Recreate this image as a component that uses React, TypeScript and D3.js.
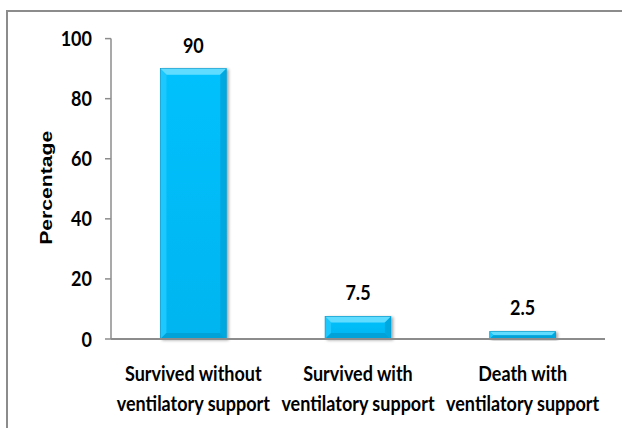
import React from "react";
import * as d3 from "d3";

const categories = [
  ["Survived without", "ventilatory support"],
  ["Survived with", "ventilatory support"],
  ["Death with", "ventilatory support"],
];
const values = [90, 7.5, 2.5];
const valueLabels = ["90", "7.5", "2.5"];
const yTicks = [0, 20, 40, 60, 80, 100];
const yTitle = "Percentage";

const W = 622;
const H = 428;
const plot = { left: 111, right: 605, top: 38.6, bottom: 339 };
const FONT = "Lato, 'Open Sans', sans-serif";
const SY = 1.2;

function T({ x, y, anchor = "middle", size = 18, children }: any) {
  return (
    <text
      transform={`translate(${x},${y}) scale(1,${SY})`}
      textAnchor={anchor}
      fontSize={size}
      fontWeight={700}
      fill="#000"
    >
      {children}
    </text>
  );
}

export default function App() {
  const x = d3
    .scaleBand<number>()
    .domain(d3.range(values.length))
    .range([plot.left, plot.right])
    .paddingInner(0.6)
    .paddingOuter(0.3);
  const y = d3.scaleLinear().domain([0, 100]).range([plot.bottom, plot.top]);
  const bw = x.bandwidth();

  return (
    <svg
      width={W}
      height={H}
      style={{ position: "absolute", left: 0, top: 0, background: "#fff" }}
      fontFamily={FONT}
    >
      <defs>
        <linearGradient id="barFill" x1="0" y1="0" x2="0" y2="1">
          <stop offset="0" stopColor="#05c1fd" />
          <stop offset="1" stopColor="#03b5f0" />
        </linearGradient>
        <filter id="shadow" x="-20%" y="-20%" width="140%" height="140%">
          <feGaussianBlur in="SourceAlpha" stdDeviation="1.5" />
          <feOffset dx="2" dy="1" result="b" />
          <feComponentTransfer>
            <feFuncA type="linear" slope="0.35" />
          </feComponentTransfer>
          <feMerge>
            <feMergeNode />
            <feMergeNode in="SourceGraphic" />
          </feMerge>
        </filter>
      </defs>
      {/* frame */}
      <rect x={7} y={11} width={W + 20} height={H + 20} fill="none" stroke="#8c8c8c" strokeWidth={2} />

      {/* y axis */}
      <line x1={plot.left} x2={plot.left} y1={y(100)} y2={y(0)} stroke="#8c8c8c" strokeWidth={1.5} />
      {yTicks.map((t) => (
        <g key={t}>
          <line x1={plot.left - 6} x2={plot.left} y1={y(t)} y2={y(t)} stroke="#8c8c8c" strokeWidth={1.5} />
          <T x={plot.left - 19} y={y(t) + 7.5} anchor="end">
            {t}
          </T>
        </g>
      ))}
      <text
        transform={`translate(46,${(y(100) + y(0)) / 2 - 1}) rotate(-90)`}
        textAnchor="middle"
        dy="0.35em"
        fontSize={17}
        fontWeight={700}
        textLength={114}
        lengthAdjust="spacingAndGlyphs"
        fontFamily="'Liberation Sans', Arial, sans-serif"
      >
        {yTitle}
      </text>

      {/* bars */}
      {values.map((v, i) => {
        const x0 = x(i)!;
        const x1 = x0 + bw;
        const yt = y(v);
        const yb = y(0);
        const h = yb - yt;
        const b = Math.min(6, h / 2);
        return (
          <g key={i} filter="url(#shadow)">
            <rect x={x0} y={yt} width={bw} height={h} fill="url(#barFill)" />
            <polygon points={`${x0},${yt} ${x1},${yt} ${x1 - b},${yt + b} ${x0 + b},${yt + b}`} fill="#5fdcff" />
            <polygon points={`${x0},${yt} ${x0 + b},${yt + b} ${x0 + b},${yb - b} ${x0},${yb}`} fill="#1ec8fd" />
            <polygon points={`${x1},${yt} ${x1 - b},${yt + b} ${x1 - b},${yb - b} ${x1},${yb}`} fill="#03a8e0" />
            <polygon points={`${x0},${yb} ${x0 + b},${yb - b} ${x1 - b},${yb - b} ${x1},${yb}`} fill="#03a2d8" />
            <rect x={x0} y={yt} width={bw} height={h} fill="none" stroke="#0796c6" strokeWidth={0.6} />
          </g>
        );
      })}

      {/* x axis */}
      <line x1={plot.left} x2={plot.right} y1={y(0)} y2={y(0)} stroke="#8c8c8c" strokeWidth={2} />

      {/* value labels */}
      {values.map((v, i) => (
        <T key={i} x={x(i)! + bw / 2} y={y(v) - 16}>
          {valueLabels[i]}
        </T>
      ))}

      {/* category labels */}
      {categories.map((lines, i) =>
        lines.map((l, j) => (
          <T key={`${i}-${j}`} x={x(i)! + bw / 2} y={381 + j * 30}>
            {l}
          </T>
        ))
      )}
    </svg>
  );
}
